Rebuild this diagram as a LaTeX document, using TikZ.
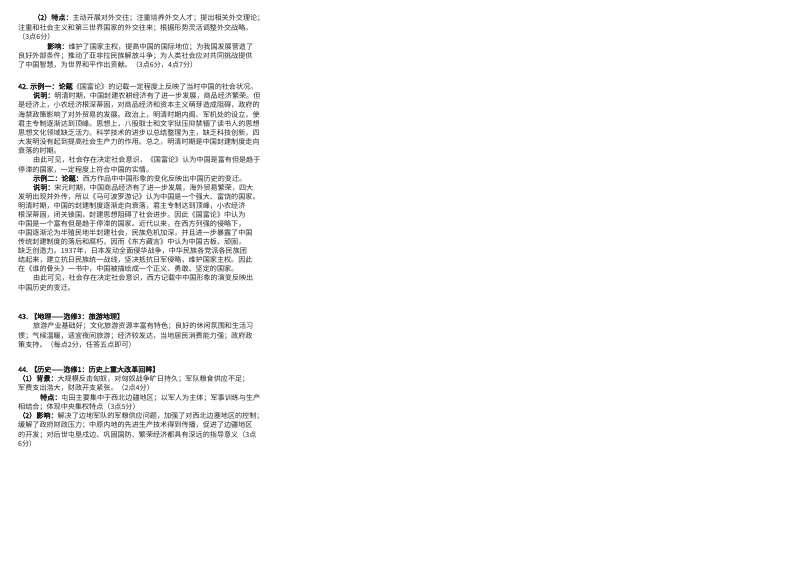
\documentclass[tikz,border=0pt]{standalone}
\usepackage{fontspec}
\newfontfamily\cjk{Noto Sans CJK SC}[AutoFakeBold=2.5]
\begin{document}
\begin{tikzpicture}[x=1pt,y=-1pt,
  ln/.style={anchor=base west,inner sep=0pt,font=\cjk\fontsize{7.1}{9}\selectfont,text=black!85}]
\useasboundingbox (0,0) rectangle (800,566);
\fill[white] (0,0) rectangle (800,566);
\def\L#1#2#3#4{\node[ln] (#1) at (#2,#3) {#4};}
\L{a1}{33}{20}{\textbf{（2）特点：}主动开展对外交往；注重培养外交人才；提出相关外交理论；}
\L{a2}{18}{30}{注重和社会主义和第三世界国家的外交往来；根据形势灵活调整外交战略。}
\L{a3}{18}{39}{（3点6分）}
\L{a4}{47}{49}{\textbf{影响：}维护了国家主权，提高中国的国际地位；为我国发展营造了}
\L{a5}{18}{58}{良好外部条件；推动了亚非拉民族解放斗争；为人类社会应对共同挑战提供}
\L{a6}{18}{67}{了中国智慧，为世界和平作出贡献。（3点6分，4点7分）}
\L{b1}{18}{89}{\textbf{42. 示例一：论题}《国富论》的记载一定程度上反映了当时中国的社会状况。}
\L{b2}{33}{98}{\textbf{说明：}明清时期，中国封建农耕经济有了进一步发展，商品经济繁荣。但}
\L{b3}{18}{107}{是经济上，小农经济根深蒂固，对商品经济和资本主义萌芽造成阻碍，政府的}
\L{b4}{18}{117}{海禁政策影响了对外贸易的发展。政治上，明清时期内阁、军机处的设立，使}
\L{b5}{18}{126}{君主专制逐渐达到顶峰。思想上，八股取士和文字狱压抑禁锢了读书人的思想}
\L{b6}{18}{135}{思想文化领域缺乏活力。科学技术的进步以总结整理为主，缺乏科技创新，四}
\L{b7}{18}{144}{大发明没有起到提高社会生产力的作用。总之，明清时期是中国封建制度走向}
\L{b8}{18}{153}{衰落的时期。}
\L{b9}{33}{162}{由此可见，社会存在决定社会意识，《国富论》认为中国是富有但是趋于}
\L{b10}{18}{172}{停滞的国家，一定程度上符合中国的实情。}
\L{c1}{33}{181}{\textbf{示例二：论题：}西方作品中中国形象的变化反映出中国历史的变迁。}
\L{c2}{33}{190}{\textbf{说明：}宋元时期，中国商品经济有了进一步发展，海外贸易繁荣，四大}
\L{c3}{18}{199}{发明出现并外传，所以《马可波罗游记》认为中国是一个强大、富饶的国家。}
\L{c4}{18}{208}{明清时期，中国的封建制度逐渐走向衰落，君主专制达到顶峰，小农经济}
\L{c5}{18}{217}{根深蒂固，闭关锁国，封建思想阻碍了社会进步。因此《国富论》中认为}
\L{c6}{18}{226}{中国是一个富有但是趋于停滞的国家。近代以来，在西方列强的侵略下，}
\L{c7}{18}{235}{中国逐渐沦为半殖民地半封建社会，民族危机加深，并且进一步暴露了中国}
\L{c8}{18}{244}{传统封建制度的落后和腐朽，因而《东方藏言》中认为中国古板、顽固，}
\L{c9}{18}{253}{缺乏创造力。1937年，日本发动全面侵华战争，中华民族各党派各民族团}
\L{c10}{18}{262}{结起来，建立抗日民族统一战线，坚决抵抗日军侵略，维护国家主权。因此}
\L{c11}{18}{271}{在《谁的骨头》一书中，中国被描绘成一个正义、勇敢、坚定的国家。}
\L{c12}{33}{280}{由此可见，社会存在决定社会意识，西方记载中中国形象的演变反映出}
\L{c13}{18}{290}{中国历史的变迁。}
\L{d1}{18}{319}{\textbf{43. 【地理——选修3：旅游地理】}}
\L{d2}{33}{328}{旅游产业基础好；文化旅游资源丰富有特色；良好的休闲氛围和生活习}
\L{d3}{18}{338}{惯；气候温暖，适宜夜间旅游；经济较发达，当地居民消费能力强；政府政}
\L{d4}{18}{347}{策支持。（每点2分，任答五点即可）}
\L{e1}{18}{372}{\textbf{44. 【历史——选修1：历史上重大改革回眸】}}
\L{e2}{18}{381}{\textbf{（1）背景：}大规模反击匈奴，对匈奴战争旷日持久；军队粮食供应不足；}
\L{e3}{18}{390}{军费支出浩大，财政开支紧张。（2点4分）}
\L{e4}{40}{400}{\textbf{特点：}屯田主要集中于西北边疆地区；以军人为主体；军事训练与生产}
\L{e5}{18}{409}{相结合；体现中央集权特点（3点5分）}
\L{e6}{18}{418}{\textbf{（2）影响：}解决了边地军队的军粮供应问题，加强了对西北边塞地区的控制；}
\L{e7}{18}{427}{缓解了政府财政压力；中原内地的先进生产技术得到传播，促进了边疆地区}
\L{e8}{18}{437}{的开发；对后世屯垦戍边、巩固国防、繁荣经济都具有深远的指导意义（3点}
\L{e9}{18}{446}{6分）}
\end{tikzpicture}
\end{document}
